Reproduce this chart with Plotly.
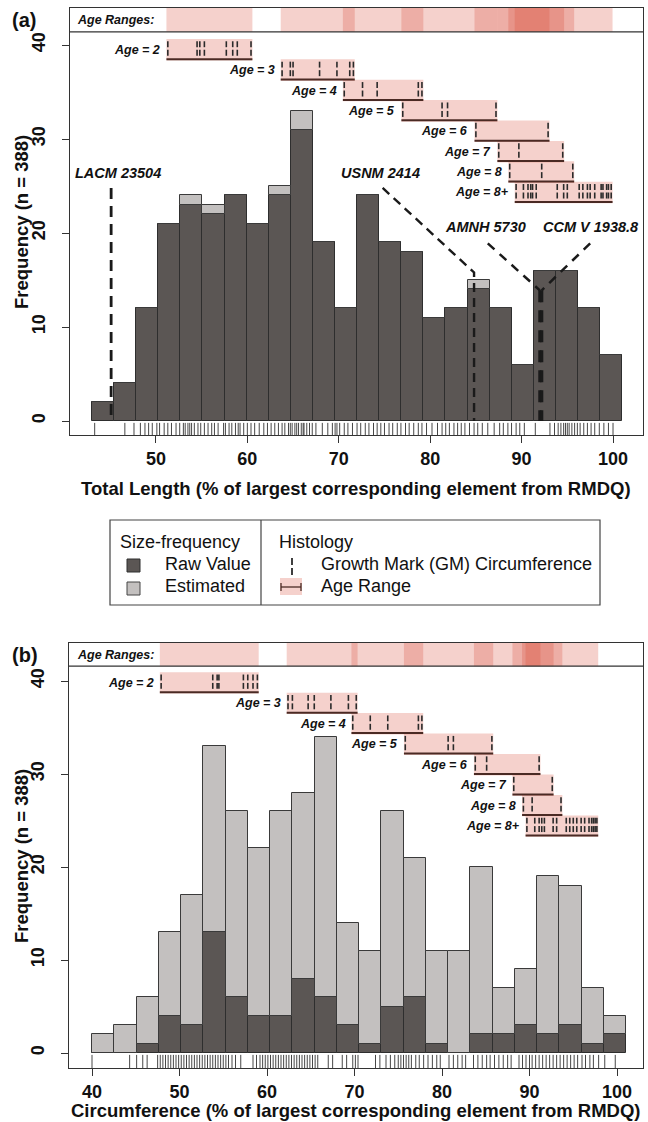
import plotly.graph_objects as go

W, H = 648, 1122
FONT = "Liberation Sans, Arial, sans-serif"

# ---------------- data: panel (a) total length ----------------
bin_start_a = 43.0
bin_width_a = 2.417
raw_a = [2, 4, 12, 21, 23, 22, 24, 21, 24, 31, 19, 12, 24, 19, 18, 11, 12, 14, 12, 6, 16, 16, 12, 7]
est_a = [0, 0, 0, 0, 1, 1, 0, 0, 1, 2, 0, 0, 0, 0, 0, 0, 0, 1, 0, 0, 0, 0, 0, 0]
rug_a = [43.3, 46.6, 47.6, 48.3, 48.8, 49.2, 49.6, 50.1, 50.4, 50.9, 51.3, 51.7, 52.2, 52.6, 53.0,
         53.2, 53.5, 53.7, 53.9, 54.2, 54.6, 54.9, 55.3, 55.7, 56.1, 56.4, 56.8, 57.4, 57.6, 58.0,
         58.3, 58.7, 59.0, 59.2, 59.6, 60.0, 60.4, 60.8, 61.3, 61.8, 62.2, 62.6, 63.0, 63.4, 63.8,
         64.1, 64.5, 64.7, 64.9, 65.2, 65.4, 65.6, 65.9, 66.1, 66.2, 66.5, 66.8, 67.1, 67.5, 68.2,
         68.8, 69.3, 69.6, 69.8, 70.1, 70.6, 71.0, 71.5, 72.0, 72.4, 72.9, 73.3, 73.8, 74.2, 74.6,
         75.0, 75.5, 75.9, 76.4, 76.8, 77.3, 77.7, 78.2, 78.7, 79.1, 79.6, 80.2, 80.8, 81.3, 81.7,
         82.1, 82.6, 83.0, 83.4, 83.8, 84.3, 84.8, 85.2, 85.7, 86.3, 87.0, 87.6, 88.0, 88.5, 88.9,
         89.4, 89.8, 90.3, 91.5, 93.1, 93.6, 94.0, 94.3, 94.6, 94.8, 95.0, 95.2, 95.5, 95.8, 96.1,
         96.4, 96.8, 97.2, 97.6, 98.0, 98.5, 99.0, 99.5, 100.0]

# ---------------- data: panel (b) circumference ----------------
bin_start_b = 40.0
bin_width_b = 2.544
raw_b = [0, 0, 1, 4, 3, 13, 6, 4, 4, 8, 6, 3, 1, 5, 6, 1, 0, 2, 2, 3, 2, 3, 1, 2]
est_b = [2, 3, 5, 9, 14, 20, 20, 18, 22, 20, 28, 11, 10, 21, 15, 10, 11, 18, 5, 6, 17, 15, 6, 2]
rug_b = [40.0, 44.3, 45.1, 45.8, 46.3, 47.5, 47.8, 48.1, 48.4, 48.7, 49.0, 49.3, 49.6, 49.9, 50.2,
         50.5, 50.8, 51.1, 51.4, 51.7, 52.0, 52.3, 52.6, 52.9, 53.2, 53.5, 53.8, 54.1, 54.4, 54.7,
         55.0, 55.3, 55.6, 56.0, 56.4, 57.0, 58.4, 58.8, 59.2, 59.5, 59.8, 60.1, 60.4, 60.7, 61.0,
         61.3, 61.6, 61.9, 62.2, 62.5, 62.8, 63.1, 63.4, 63.7, 64.0, 64.3, 64.6, 64.9, 65.2, 65.5,
         65.8, 67.0, 67.5, 68.6, 69.1, 69.8, 70.1, 70.4, 72.4, 72.9, 73.6, 74.1, 74.6, 75.0, 75.3,
         75.6, 75.9, 76.2, 76.5, 77.0, 77.4, 77.9, 78.4, 78.9, 79.4, 79.8, 80.8, 81.3, 81.8, 82.3,
         82.7, 83.6, 84.1, 84.6, 85.1, 85.5, 86.0, 86.5, 87.0, 87.5, 87.9, 88.8, 89.2, 89.6, 90.0,
         90.3, 90.7, 91.1, 91.5, 91.9, 92.3, 92.7, 93.1, 93.5, 93.9, 94.3, 94.7, 95.1, 95.5, 96.0,
         96.4, 96.9, 97.3, 97.9, 98.6, 99.8]

# ---------------- histology: growth marks per age class ----------------
age_labels = ["Age = 2", "Age = 3", "Age = 4", "Age = 5", "Age = 6", "Age = 7", "Age = 8", "Age = 8+"]
gm_a = [
    [51.3, 54.5, 54.8, 55.3, 57.7, 58.4, 58.9, 60.4],
    [63.8, 64.7, 65.0, 67.9, 69.8, 71.2, 71.6],
    [70.6, 72.6, 74.2, 78.7, 79.1],
    [77.0, 81.3, 81.9, 87.2],
    [85.0, 92.9],
    [87.5, 89.7, 94.5],
    [88.7, 92.2, 95.6],
    [89.4, 90.2, 90.7, 91.0, 91.2, 91.6, 93.9, 94.6, 95.0, 96.3, 96.7, 97.2, 97.5, 98.0, 98.7,
     98.9, 99.3, 99.5, 99.8],
]
gm_b = [
    [47.9, 53.8, 54.3, 54.5, 57.3, 57.8, 58.4, 58.9],
    [62.4, 62.9, 64.7, 65.4, 67.3, 69.3, 70.2],
    [69.8, 71.8, 73.8, 77.3, 77.7],
    [75.8, 80.7, 81.3, 85.7],
    [83.8, 85.1, 91.1],
    [88.2, 92.6],
    [89.3, 90.3, 93.6],
    [89.7, 90.6, 91.1, 91.4, 91.7, 92.7, 93.1, 94.2, 94.6, 95.0, 95.4, 95.9, 96.3, 96.8, 97.1,
     97.3, 97.5, 97.7],
]

# ---------------- specimens marked in panel (a) ----------------
specimens = ["LACM 23504", "USNM 2414", "AMNH 5730", "CCM V 1938.8"]
specimen_tl = [45.1, 84.8, 92.0, 92.2]

xticks_a = [50, 60, 70, 80, 90, 100]
xticks_b = [40, 50, 60, 70, 80, 90, 100]
yticks = [0, 10, 20, 30, 40]

# ---------------- styling ----------------
RAW_COL = "#5b5654"
EST_COL = "#c3c0bf"
EDGE = "#2e2e2e"
PINK = "rgba(215,70,50,0.25)"
UL = "#4a2a24"
FRAME = "#333333"


def px_x(p):
    return p / W


def px_y(p):
    return 1 - p / H


fig = go.Figure()
shapes = []
annotations = []

panels = [
    dict(xa="x", ya="y", start=bin_start_a, width=bin_width_a, raw=raw_a, est=est_a, gm=gm_a,
         rug=rug_a, row_top=39.5, row_step=2.17, strip=(41.4, 43.94), ybot=-1.49, xl=40.6,
         xr=103.28),
    dict(xa="x2", ya="y2", start=bin_start_b, width=bin_width_b, raw=raw_b, est=est_b, gm=gm_b,
         rug=rug_b, row_top=39.8, row_step=2.2, strip=(41.6, 44.09), ybot=-1.61, xl=37.37,
         xr=102.97),
]

for p in panels:
    n = len(p["raw"])
    centers = [p["start"] + (i + 0.5) * p["width"] for i in range(n)]
    fig.add_trace(go.Bar(x=centers, y=p["raw"], width=p["width"], xaxis=p["xa"], yaxis=p["ya"],
                         marker=dict(color=RAW_COL, line=dict(color=EDGE, width=1)),
                         showlegend=False, hoverinfo="skip"))
    fig.add_trace(go.Bar(x=centers, y=p["est"], base=p["raw"], width=p["width"], xaxis=p["xa"],
                         yaxis=p["ya"],
                         marker=dict(color=EST_COL, line=dict(color="#3a3a3a", width=1)),
                         showlegend=False, hoverinfo="skip"))
    # rug
    xs, ys = [], []
    for v in p["rug"]:
        xs += [v, v, None]
        ys += [-0.2, p["ybot"], None]
    fig.add_trace(go.Scatter(x=xs, y=ys, mode="lines", xaxis=p["xa"], yaxis=p["ya"],
                             line=dict(color="rgba(25,25,25,0.8)", width=1),
                             showlegend=False, hoverinfo="skip"))
    # header divider
    shapes.append(dict(type="line", xref=p["xa"], yref=p["ya"], x0=p["xl"], x1=p["xr"],
                       y0=p["strip"][0], y1=p["strip"][0], line=dict(color=FRAME, width=1.3)))
    # age rows
    gx, gy = [], []
    for i, (lab, g) in enumerate(zip(age_labels, p["gm"])):
        r = p["row_top"] - i * p["row_step"]
        lo, hi = min(g) - 0.15, max(g) + 0.15
        shapes.append(dict(type="rect", xref=p["xa"], yref=p["ya"], x0=lo, x1=hi,
                           y0=r - 1.15, y1=r + 1.15, fillcolor=PINK, line=dict(width=0),
                           layer="below"))
        shapes.append(dict(type="rect", xref=p["xa"], yref=p["ya"], x0=lo, x1=hi,
                           y0=p["strip"][0], y1=p["strip"][1], fillcolor=PINK,
                           line=dict(width=0), layer="below"))
        shapes.append(dict(type="line", xref=p["xa"], yref=p["ya"], x0=lo, x1=hi,
                           y0=r - 1.0, y1=r - 1.0, line=dict(color=UL, width=2)))
        for v in g:
            gx += [v, v, None, v, v, None]
            gy += [r + 0.9, r + 0.27, None, r, r - 0.64, None]
        annotations.append(dict(xref=p["xa"], yref=p["ya"], x=lo - 0.45, y=r, xanchor="right",
                                yanchor="middle", showarrow=False, text="<b><i>%s</i></b>" % lab,
                                font=dict(family=FONT, size=12.5, color="#111")))
    fig.add_trace(go.Scatter(x=gx, y=gy, mode="lines", xaxis=p["xa"], yaxis=p["ya"],
                             line=dict(color="#2a2a2a", width=1.6),
                             showlegend=False, hoverinfo="skip"))

# specimen leader lines (panel a)
lab_pos = [(45.8, 26.4), (74.6, 26.4), (86.1, 20.6), (97.6, 20.6)]
leaders = [
    ([specimen_tl[0], specimen_tl[0]], [24.8, 0], "11px,7px", 2.8),
    ([74.8, specimen_tl[1], specimen_tl[1]], [24.8, 15.8, 0], "9px,6px", 2.4),
    ([86.3, specimen_tl[2]], [18.9, 13.9], "9px,7px", 2.5),
    ([97.5, specimen_tl[3]], [18.9, 13.9], "9px,7px", 2.5),
    ([specimen_tl[2], specimen_tl[2]], [13.9, 0], "12px,8px", 3.2),
    ([specimen_tl[3], specimen_tl[3]], [13.9, 0], "12px,8px", 3.2),
]
for xs, ys, dash, wd in leaders:
    fig.add_trace(go.Scatter(x=xs, y=ys, mode="lines", xaxis="x", yaxis="y",
                             line=dict(color="#1a1a1a", width=wd, dash=dash),
                             showlegend=False, hoverinfo="skip"))
for name, (lx, ly) in zip(specimens, lab_pos):
    annotations.append(dict(xref="x", yref="y", x=lx, y=ly, xanchor="center", yanchor="middle",
                            showarrow=False, text="<b><i>%s</i></b>" % name,
                            font=dict(family=FONT, size=14.5, color="#111")))

# header labels, panel labels, axis titles
for ytop, lab in [(20, "(a)"), (655, "(b)")]:
    annotations.append(dict(xref="paper", yref="paper", x=px_x(10), y=px_y(ytop), xanchor="left",
                            yanchor="middle", showarrow=False, text="<b>%s</b>" % lab,
                            font=dict(family=FONT, size=20, color="#111")))
for yc in [20, 655]:
    annotations.append(dict(xref="paper", yref="paper", x=px_x(75), y=px_y(yc), xanchor="left",
                            yanchor="middle", showarrow=False, text="<b><i>Age Ranges:</i></b>",
                            font=dict(family=FONT, size=12.5, color="#111")))
annotations.append(dict(xref="paper", yref="paper", x=px_x(356), y=px_y(488), xanchor="center",
                        yanchor="middle", showarrow=False,
                        text="<b>Total Length (% of largest corresponding element from RMDQ)</b>",
                        font=dict(family=FONT, size=18.5, color="#111")))
annotations.append(dict(xref="paper", yref="paper", x=px_x(356), y=px_y(1110), xanchor="center",
                        yanchor="middle", showarrow=False,
                        text="<b>Circumference (% of largest corresponding element from RMDQ)</b>",
                        font=dict(family=FONT, size=18.5, color="#111")))
for yc in [222, 856]:
    annotations.append(dict(xref="paper", yref="paper", x=px_x(21), y=px_y(yc), xanchor="center",
                            yanchor="middle", showarrow=False,
                            textangle=-90, text="<b>Frequency (n = 388)</b>",
                            font=dict(family=FONT, size=18.5, color="#111")))

# legend (drawn manually)
shapes += [
    dict(type="rect", xref="paper", yref="paper", x0=px_x(110), x1=px_x(600), y0=px_y(605),
         y1=px_y(520), line=dict(color="#444", width=1.2), fillcolor="rgba(0,0,0,0)"),
    dict(type="line", xref="paper", yref="paper", x0=px_x(261), x1=px_x(261), y0=px_y(605),
         y1=px_y(520), line=dict(color="#444", width=1.2)),
    dict(type="rect", xref="paper", yref="paper", x0=px_x(127), x1=px_x(140), y0=px_y(572),
         y1=px_y(559), fillcolor=RAW_COL, line=dict(color=EDGE, width=1)),
    dict(type="rect", xref="paper", yref="paper", x0=px_x(127), x1=px_x(140), y0=px_y(595),
         y1=px_y(582), fillcolor=EST_COL, line=dict(color="#444", width=1)),
    dict(type="line", xref="paper", yref="paper", x0=px_x(292), x1=px_x(292), y0=px_y(558),
         y1=px_y(565), line=dict(color="#2a2a2a", width=1.8)),
    dict(type="line", xref="paper", yref="paper", x0=px_x(292), x1=px_x(292), y0=px_y(568),
         y1=px_y(575), line=dict(color="#2a2a2a", width=1.8)),
    dict(type="rect", xref="paper", yref="paper", x0=px_x(280), x1=px_x(302), y0=px_y(595),
         y1=px_y(578), fillcolor=PINK, line=dict(width=0)),
    dict(type="line", xref="paper", yref="paper", x0=px_x(281), x1=px_x(301), y0=px_y(587),
         y1=px_y(587), line=dict(color=UL, width=1.3)),
    dict(type="line", xref="paper", yref="paper", x0=px_x(281), x1=px_x(281), y0=px_y(583),
         y1=px_y(591), line=dict(color=UL, width=1.3)),
    dict(type="line", xref="paper", yref="paper", x0=px_x(301), x1=px_x(301), y0=px_y(583),
         y1=px_y(591), line=dict(color=UL, width=1.3)),
]
for xl, yc, txt in [(118, 542, "Size-frequency"), (163, 564, "Raw Value"), (163, 586, "Estimated"),
                    (277, 542, "Histology"), (319, 564, "Growth Mark (GM) Circumference"),
                    (319, 586, "Age Range")]:
    annotations.append(dict(xref="paper", yref="paper", x=px_x(xl), y=px_y(yc), xanchor="left",
                            yanchor="middle", showarrow=False, text=txt,
                            font=dict(family=FONT, size=18, color="#111")))

axis_common = dict(showgrid=False, zeroline=False, showline=True, mirror=True, linecolor=FRAME,
                   linewidth=1.3, ticks="outside", ticklen=7, tickwidth=1.3, tickcolor=FRAME,
                   tickfont=dict(family=FONT, size=18, color="#111", weight="bold"))

fig.update_layout(
    width=W, height=H, margin=dict(l=0, r=0, t=0, b=0), paper_bgcolor="white",
    plot_bgcolor="white", barmode="overlay", bargap=0, showlegend=False,
    xaxis=dict(domain=[px_x(70), px_x(643)], range=[panels[0]["xl"], panels[0]["xr"]],
               tickvals=xticks_a, anchor="y", **axis_common),
    yaxis=dict(domain=[px_y(435), px_y(8)], range=[panels[0]["ybot"], 43.94], tickvals=yticks,
               tickangle=-90, anchor="x", ticklabelstandoff=10, **axis_common),
    xaxis2=dict(domain=[px_x(69), px_x(643)], range=[panels[1]["xl"], panels[1]["xr"]],
                tickvals=xticks_b, anchor="y2", **axis_common),
    yaxis2=dict(domain=[px_y(1068), px_y(643)], range=[panels[1]["ybot"], 44.09], tickvals=yticks,
                tickangle=-90, anchor="x2", ticklabelstandoff=10, **axis_common),
    shapes=shapes, annotations=annotations,
)

fig.write_html("out.html")
